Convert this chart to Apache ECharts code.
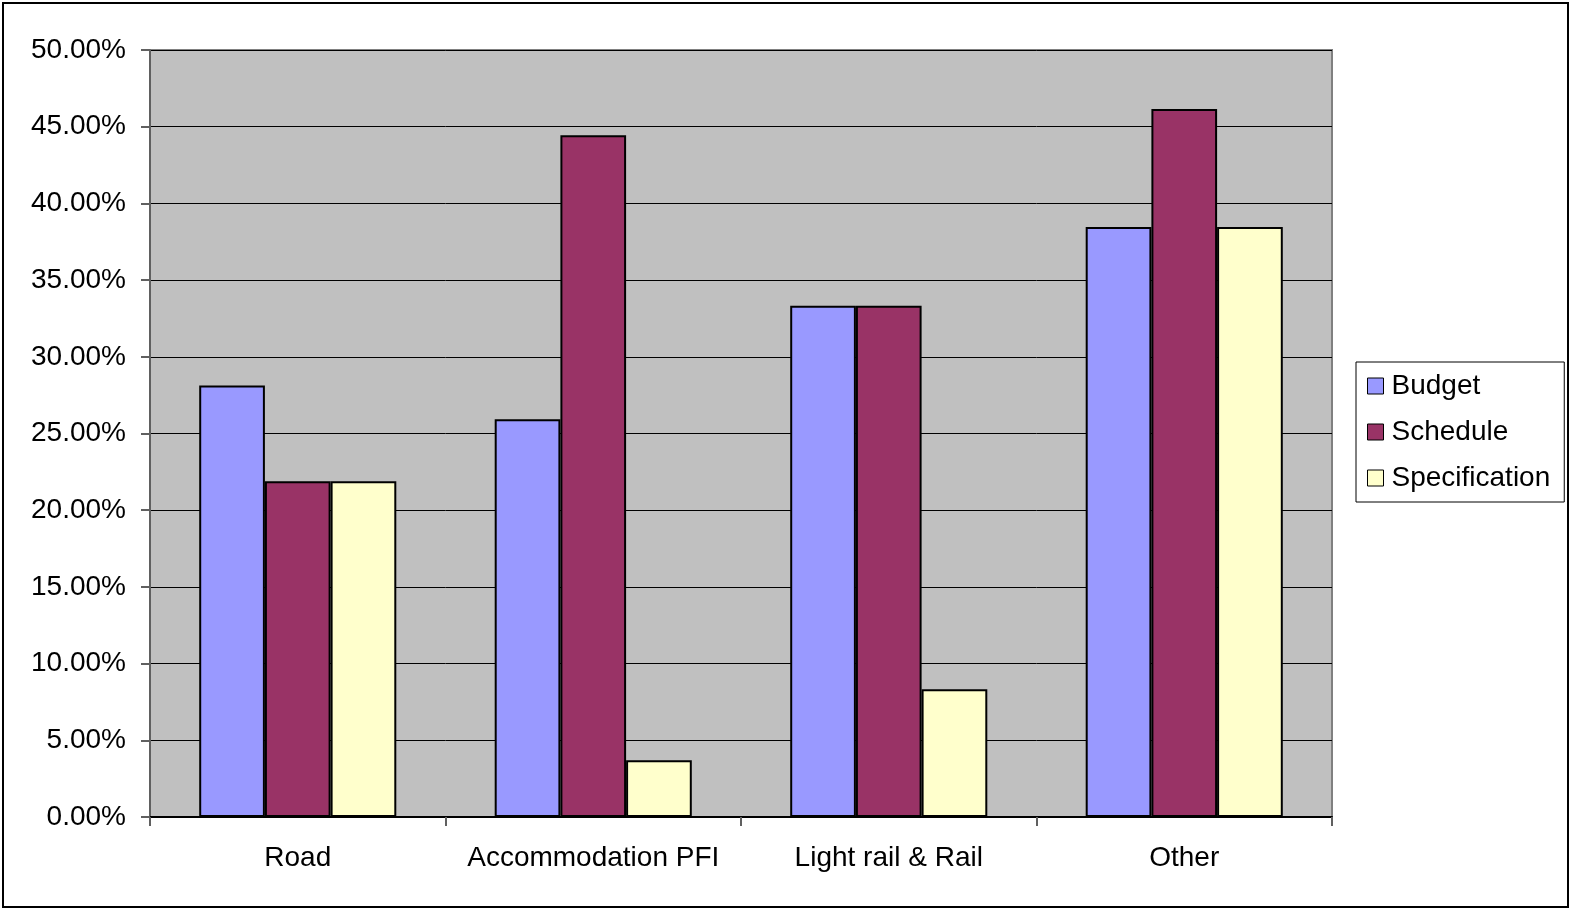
<!DOCTYPE html>
<html>
<head>
<meta charset="utf-8">
<script src="https://cdn.jsdelivr.net/npm/echarts@6/dist/echarts.min.js"></script>
<style>
  html, body { margin: 0; padding: 0; background: #ffffff; }
  #chart { width: 1574px; height: 910px; }
</style>
</head>
<body>
<div id="chart"></div>
<script>
// Share of projects affected, by project type (percent)
const categories = ['Road', 'Accommodation PFI', 'Light rail & Rail', 'Other'];
const budget = [28.13, 25.93, 33.33, 38.46];
const schedule = [21.88, 44.44, 33.33, 46.15];
const specification = [21.88, 3.70, 8.33, 38.46];
const yTicks = { min: 0, max: 50, interval: 5 };

const FONT = '"Liberation Sans", Arial, sans-serif';

const chart = echarts.init(document.getElementById('chart'), null, { renderer: 'canvas' });

function barSeries(name, data, color) {
  return {
    name: name,
    type: 'bar',
    data: data,
    barGap: '0%',
    barCategoryGap: '33.3%',
    itemStyle: { color: color, borderColor: '#000000', borderWidth: 2 },
    emphasis: { disabled: true }
  };
}

chart.setOption({
  animation: false,
  backgroundColor: '#ffffff',
  textStyle: { fontFamily: FONT, color: '#000000' },
  graphic: [{
    type: 'rect',
    shape: { x: 3, y: 3, width: 1565, height: 904 },
    style: { fill: 'none', stroke: '#000000', lineWidth: 2 },
    z: 100,
    silent: true
  }],
  grid: {
    left: 150, top: 50, right: 242, bottom: 93,
    show: true,
    backgroundColor: '#C0C0C0',
    borderColor: '#808080',
    borderWidth: 2
  },
  legend: {
    orient: 'vertical',
    left: 1356,
    top: 362,
    padding: [10, 14, 10, 11],
    itemGap: 18,
    itemWidth: 16,
    itemHeight: 16,
    icon: 'rect',
    itemStyle: { borderColor: '#000000', borderWidth: 1 },
    backgroundColor: '#ffffff',
    borderColor: '#000000',
    borderWidth: 1,
    borderRadius: 0,
    textStyle: { fontFamily: FONT, fontSize: 28, color: '#000000', padding: [0, 0, 0, 3] },
    selectedMode: false
  },
  xAxis: {
    type: 'category',
    data: categories,
    boundaryGap: true,
    axisLine: { show: true, lineStyle: { color: '#000000', width: 2 } },
    axisTick: { show: true, length: 9, interval: 0, lineStyle: { color: '#606060', width: 2 } },
    axisLabel: { fontFamily: FONT, fontSize: 28, color: '#000000', margin: 27, interval: 0 },
    splitLine: { show: false }
  },
  yAxis: {
    type: 'value',
    min: yTicks.min,
    max: yTicks.max,
    interval: yTicks.interval,
    axisLine: { show: true, lineStyle: { color: '#606060', width: 2 } },
    axisTick: { show: true, length: 9, lineStyle: { color: '#606060', width: 2 } },
    axisLabel: {
      fontFamily: FONT, fontSize: 28, color: '#000000', margin: 24,
      formatter: function (v) { return v.toFixed(2) + '%'; }
    },
    splitLine: { show: true, lineStyle: { color: '#000000', width: 1 } }
  },
  series: [
    barSeries('Budget', budget, '#9999FF'),
    barSeries('Schedule', schedule, '#993366'),
    barSeries('Specification', specification, '#FFFFCC')
  ]
});
</script>
</body>
</html>
